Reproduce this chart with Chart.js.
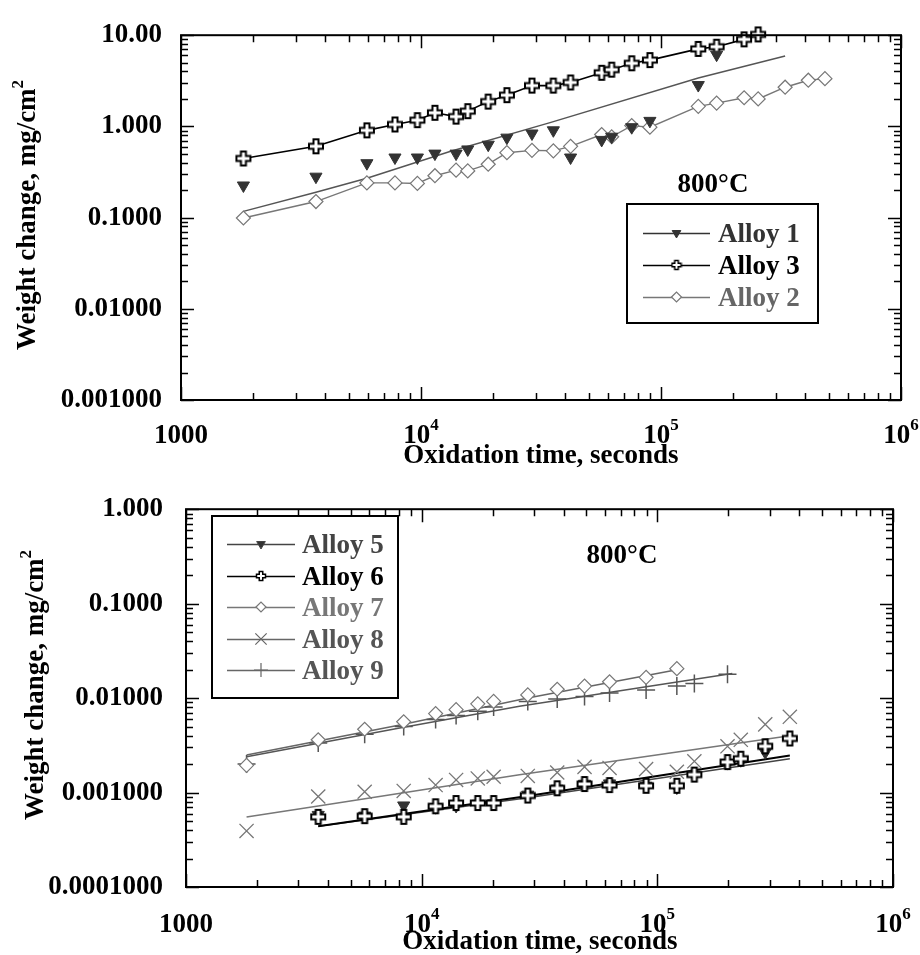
<!DOCTYPE html>
<html>
<head>
<meta charset="utf-8">
<script src="https://cdn.jsdelivr.net/npm/chart.js@4"></script>
<style>
  html, body { margin: 0; padding: 0; background: #fff; }
  #wrap { position: relative; width: 920px; height: 955px; }
  #c1 { position: absolute; left: 0; top: 0; }
  #c2 { position: absolute; left: 0; top: 470px; }
</style>
</head>
<body>
<div id="wrap">
  <canvas id="c1" width="920" height="470"></canvas>
  <canvas id="c2" width="920" height="485"></canvas>
</div>
<script>
"use strict";

// ─── Data: top panel (800°C, Alloys 1–3) ────────────────────────────────────
const TOP_T  = [1820, 3650, 5950, 7790, 9660, 11430, 14000, 15660, 19060, 22800, 29000, 35600,
                42000, 56600, 62300, 75500, 89900, 143000, 170500, 222000, 254000, 329000, 411000, 482000];
const ALLOY1 = [0.225, 0.281, 0.395, 0.456, 0.456, 0.503, 0.503, 0.559, 0.63, 0.753, 0.836, 0.906,
                0.456, 0.711, 0.771, 0.98, 1.15, 2.84, 6.12, null, null, null, null, null];
const ALLOY3 = [0.445, 0.605, 0.905, 1.05, 1.17, 1.41, 1.28, 1.47, 1.87, 2.2, 2.8, 2.8,
                3.03, 3.87, 4.19, 4.92, 5.33, 7.08, 7.48, 9.0, 10.2, null, null, null];
const ALLOY2 = [0.099, 0.15, 0.24, 0.24, 0.237, 0.288, 0.331, 0.325, 0.385, 0.515, 0.546, 0.54,
                0.605, 0.815, 0.77, 1.02, 0.98, 1.66, 1.80, 2.06, 2.0, 2.69, 3.21, 3.34];
const FIT1_T = [1820, 3650, 5950, 13200, 34500, 143000, 329000];
const FIT1   = [0.117, 0.19, 0.27, 0.53, 1.1, 3.4, 5.9];

// ─── Data: bottom panel (800°C, Alloys 5–9) ─────────────────────────────────
const BOT_T  = [1807, 3640, 5730, 8390, 11460, 14000, 17300, 20200, 28200, 37600, 49100, 62700,
                89600, 121000, 143600, 198500, 226000, 287000, 365000];
const ALLOY5 = [null, 0.00058, 0.00057, 0.00073, 0.0007, 0.00072, 0.00076, 0.00077, 0.00095, 0.0011,
                0.00124, 0.00125, 0.00118, 0.00113, 0.00155, 0.00205, 0.0022, 0.00267, null];
const ALLOY6 = [null, 0.000553, 0.000562, 0.000553, 0.000715, 0.000775, 0.000775, 0.000775, 0.00093,
                0.00111, 0.00123, 0.0012, 0.00118, 0.00118, 0.00155, 0.0021, 0.00228, 0.00309, 0.00374];
const ALLOY7 = [0.00194, 0.00362, 0.00468, 0.00562, 0.00686, 0.00755, 0.0087, 0.00923, 0.0108, 0.0124,
                0.0134, 0.0149, 0.0166, 0.0205, null, null, null, null, null];
const ALLOY8 = [0.000392, 0.000908, 0.00102, 0.00104, 0.0012, 0.00136, 0.00141, 0.00147, 0.0015, 0.00163,
                0.00187, 0.00182, 0.00177, 0.00166, 0.00214, 0.00309, 0.00362, 0.00527, 0.00634];
const ALLOY9 = [0.002, 0.00334, 0.00415, 0.00499, 0.00594, 0.00654, 0.00727, 0.00806, 0.00923, 0.00977,
                0.0104, 0.0113, 0.0122, 0.0134, 0.0143, 0.0179, null, null, null];
const FIT5_T = [3640, 28200, 365000];
const FIT5   = [0.00044, 0.00088, 0.00228];
const FIT6_T = [3640, 28200, 365000];
const FIT6   = [0.00044, 0.00092, 0.00247];
const FIT7_T = [1807, 8390, 28200, 121000];
const FIT7   = [0.0025, 0.0053, 0.0100, 0.0200];
const FIT8_T = [1807, 3640, 26000, 365000];
const FIT8   = [0.00055, 0.00072, 0.00154, 0.0040];
const FIT9_T = [1807, 8390, 26000, 208000];
const FIT9   = [0.0024, 0.0049, 0.0082, 0.0182];

// ─── Axis ticks ─────────────────────────────────────────────────────────────
const X_TICKS     = [1e3, 1e4, 1e5, 1e6];
const X_LABELS    = [["1000", ""], ["10", "4"], ["10", "5"], ["10", "6"]];
const TOP_Y_TICKS = [0.001, 0.01, 0.1, 1, 10];
const TOP_Y_LABELS = ["0.001000", "0.01000", "0.1000", "1.000", "10.00"];
const BOT_Y_TICKS = [0.0001, 0.001, 0.01, 0.1, 1];
const BOT_Y_LABELS = ["0.0001000", "0.001000", "0.01000", "0.1000", "1.000"];

const SERIF = '"Liberation Serif", "DejaVu Serif", serif';
const FONT  = (sz) => `bold ${sz}px ${SERIF}`;

// ─── Marker helpers ─────────────────────────────────────────────────────────
function makePlus(size, arm, reach, color, lw) {
  const c = document.createElement("canvas");
  c.width = c.height = size;
  const g = c.getContext("2d");
  const s = size / 2, a = arm / 2, r = reach;
  g.beginPath();
  g.moveTo(s - a, s - r); g.lineTo(s + a, s - r); g.lineTo(s + a, s - a); g.lineTo(s + r, s - a);
  g.lineTo(s + r, s + a); g.lineTo(s + a, s + a); g.lineTo(s + a, s + r); g.lineTo(s - a, s + r);
  g.lineTo(s - a, s + a); g.lineTo(s - r, s + a); g.lineTo(s - r, s - a); g.lineTo(s - a, s - a);
  g.closePath();
  g.fillStyle = "#fff"; g.fill();
  g.lineWidth = lw; g.strokeStyle = color; g.lineJoin = "miter"; g.stroke();
  return c;
}
const PLUS_BIG   = makePlus(18, 5, 7, "#000", 2);
const PLUS_SMALL = makePlus(12, 3.5, 4.5, "#000", 1.5);

const pts = (xs, ys) => xs.map((x, i) => ({ x, y: ys[i] })).filter(p => p.y !== null);

function markerSet(label, xs, ys, color, style, extra) {
  return Object.assign({
    label, data: pts(xs, ys), showLine: true, order: 1, clip: false,
    borderColor: color, borderWidth: 1.5, backgroundColor: color,
    pointStyle: style, pointRadius: 7, pointBorderColor: color, pointBackgroundColor: color,
    pointBorderWidth: 1.2, pointHoverRadius: 7,
  }, extra || {});
}
function fitSet(label, xs, ys, color, lw) {
  return {
    label, data: pts(xs, ys), showLine: true, order: 10, clip: false,
    borderColor: color, borderWidth: lw || 1.5, pointRadius: 0, pointHoverRadius: 0,
  };
}

// ─── Decorations: frame, inward ticks, x labels, titles, legend ────────────
const deco = {
  id: "deco",
  afterDraw(chart, args, o) {
    const { ctx, chartArea: a, scales: { x, y } } = chart;
    const H = Chart.helpers;
    ctx.save();

    // inward tick marks on all four sides
    ctx.strokeStyle = "#000";
    ctx.lineWidth = 1.5;
    ctx.beginPath();
    for (let e = 3; e <= 6; e++) {
      for (let m = 1; m <= 9; m++) {
        const v = m * Math.pow(10, e);
        if (v > x.max * 1.0001) break;
        const px = Math.round(x.getPixelForValue(v)) + 0.5;
        const L = m === 1 ? 13 : 7;
        ctx.moveTo(px, a.bottom); ctx.lineTo(px, a.bottom - L);
        ctx.moveTo(px, a.top);    ctx.lineTo(px, a.top + L);
      }
    }
    const e0 = Math.round(Math.log10(y.min)), e1 = Math.round(Math.log10(y.max));
    for (let e = e0; e <= e1; e++) {
      for (let m = 1; m <= 9; m++) {
        const v = m * Math.pow(10, e);
        if (v > y.max * 1.0001) break;
        const py = Math.round(y.getPixelForValue(v)) + 0.5;
        const L = m === 1 ? 13 : 7;
        ctx.moveTo(a.left, py);  ctx.lineTo(a.left + L, py);
        ctx.moveTo(a.right, py); ctx.lineTo(a.right - L, py);
      }
    }
    ctx.stroke();

    // frame
    ctx.lineWidth = 2;
    ctx.strokeRect(a.left, a.top, a.right - a.left, a.bottom - a.top);

    // x tick labels with superscript exponents
    ctx.fillStyle = "#000";
    ctx.textBaseline = "alphabetic";
    ctx.textAlign = "left";
    X_TICKS.forEach((v, i) => {
      const [base, sup] = X_LABELS[i];
      ctx.font = FONT(27);
      const wb = ctx.measureText(base).width;
      ctx.font = FONT(17);
      const ws = sup ? ctx.measureText(sup).width : 0;
      const x0 = x.getPixelForValue(v) - (wb + ws) / 2;
      ctx.font = FONT(27);
      ctx.fillText(base, x0, o.xLabelY);
      if (sup) { ctx.font = FONT(17); ctx.fillText(sup, x0 + wb, o.xLabelY - 13); }
    });

    // x title
    ctx.font = FONT(27);
    ctx.textAlign = "center";
    ctx.fillText("Oxidation time, seconds", o.xTitle[0], o.xTitle[1]);

    // y title (rotated) with superscript 2
    ctx.save();
    ctx.translate(o.yTitle[0], o.yTitle[1]);
    ctx.rotate(-Math.PI / 2);
    ctx.textAlign = "left";
    ctx.font = FONT(27);
    const t1 = "Weight change, mg/cm";
    const w1 = ctx.measureText(t1).width;
    ctx.font = FONT(17);
    const w2 = ctx.measureText("2").width;
    ctx.font = FONT(27);
    ctx.fillText(t1, -(w1 + w2) / 2, 0);
    ctx.font = FONT(17);
    ctx.fillText("2", -(w1 + w2) / 2 + w1, -12);
    ctx.restore();

    // temperature label
    ctx.font = FONT(27);
    ctx.textAlign = "center";
    ctx.fillText("800°C", o.temp[0], o.temp[1]);

    // legend box
    const L = o.legend;
    ctx.lineWidth = 2;
    ctx.strokeStyle = "#000";
    ctx.strokeRect(L.box[0], L.box[1], L.box[2] - L.box[0], L.box[3] - L.box[1]);
    L.items.forEach((it, i) => {
      const ly = L.rows[i];
      ctx.strokeStyle = it.color;
      ctx.lineWidth = 1.5;
      ctx.beginPath();
      ctx.moveTo(L.line[0], ly + 0.5); ctx.lineTo(L.line[1], ly + 0.5);
      ctx.stroke();
      ctx.fillStyle = it.fill;
      ctx.strokeStyle = it.color;
      ctx.lineWidth = it.bw || 1.2;
      H.drawPoint(ctx, { pointStyle: it.style, rotation: it.rot || 0, radius: it.r, borderWidth: it.bw || 1.2 },
                  (L.line[0] + L.line[1]) / 2, ly);
      ctx.fillStyle = it.text;
      ctx.font = FONT(27);
      ctx.textAlign = "left";
      ctx.fillText(it.label, L.textX, ly + 9);
    });

    ctx.restore();
  },
};

function baseOptions(yMin, yMax, yTicks, yLabels, yWidth, xHeight, pad, decoOpts) {
  return {
    responsive: false,
    animation: false,
    layout: { padding: pad },
    plugins: { legend: { display: false }, tooltip: { enabled: false }, deco: decoOpts },
    scales: {
      x: {
        type: "logarithmic", min: 1000, max: 1e6, position: "bottom",
        grid: { display: false, drawTicks: false }, border: { display: false },
        ticks: { display: false },
        afterFit: (s) => { s.height = xHeight; },
      },
      y: {
        type: "logarithmic", min: yMin, max: yMax,
        grid: { display: false, drawTicks: false }, border: { display: false },
        afterBuildTicks: (s) => { s.ticks = yTicks.map(v => ({ value: v })); },
        ticks: {
          autoSkip: false, color: "#000", padding: pad.tickPad,
          font: { family: SERIF, size: 27, weight: "bold" },
          callback: (v, i) => yLabels[i],
        },
        afterFit: (s) => { s.width = yWidth; },
      },
    },
  };
}

// ─── Top chart ──────────────────────────────────────────────────────────────
new Chart(document.getElementById("c1"), {
  type: "scatter",
  plugins: [deco],
  data: {
    datasets: [
      markerSet("Alloy 1", TOP_T, ALLOY1, "#333", "triangle", { showLine: false, pointRotation: 180, pointBorderWidth: 1 }),
      markerSet("Alloy 3", TOP_T, ALLOY3, "#000", PLUS_BIG, { borderWidth: 1.6 }),
      markerSet("Alloy 2", TOP_T, ALLOY2, "#777", "rectRot", { pointBackgroundColor: "#fff", borderWidth: 1.4 }),
      fitSet("Alloy 1 fit", FIT1_T, FIT1, "#555", 1.5),
    ],
  },
  options: baseOptions(0.001, 10, TOP_Y_TICKS, TOP_Y_LABELS, 181, 70,
    { top: 19, right: 19, left: 0, bottom: 0, tickPad: 19 },
    {
      xLabelY: 443, xTitle: [541, 463], yTitle: [35, 215], temp: [713, 192],
      legend: {
        box: [627, 204, 818, 323], rows: [233, 265, 297], line: [643, 710], textX: 718,
        items: [
          { label: "Alloy 1", color: "#333", fill: "#333", text: "#333", style: "triangle", rot: 180, r: 5, bw: 1 },
          { label: "Alloy 3", color: "#000", fill: "#000", text: "#000", style: PLUS_SMALL, r: 5 },
          { label: "Alloy 2", color: "#777", fill: "#fff", text: "#666", style: "rectRot", r: 5 },
        ],
      },
    }),
});

// ─── Bottom chart ───────────────────────────────────────────────────────────
new Chart(document.getElementById("c2"), {
  type: "scatter",
  plugins: [deco],
  data: {
    datasets: [
      markerSet("Alloy 6", BOT_T, ALLOY6, "#000", PLUS_BIG, { showLine: false }),
      markerSet("Alloy 5", BOT_T, ALLOY5, "#333", "triangle", { showLine: false, pointRotation: 180, pointBorderWidth: 1 }),
      markerSet("Alloy 7", BOT_T, ALLOY7, "#777", "rectRot", { showLine: false, pointBackgroundColor: "#fff" }),
      markerSet("Alloy 8", BOT_T, ALLOY8, "#777", "crossRot", { showLine: false, pointRadius: 10, pointBorderWidth: 1.3 }),
      markerSet("Alloy 9", BOT_T, ALLOY9, "#555", "cross", { showLine: false, pointRadius: 9, pointBorderWidth: 1.5 }),
      fitSet("Alloy 6 fit", FIT6_T, FIT6, "#000", 2),
      fitSet("Alloy 5 fit", FIT5_T, FIT5, "#444", 1.5),
      fitSet("Alloy 7 fit", FIT7_T, FIT7, "#666", 1.5),
      fitSet("Alloy 8 fit", FIT8_T, FIT8, "#777", 1.5),
      fitSet("Alloy 9 fit", FIT9_T, FIT9, "#555", 1.5),
    ],
  },
  options: baseOptions(0.0001, 1, BOT_Y_TICKS, BOT_Y_LABELS, 186, 68,
    { top: 33, right: 27, left: 0, bottom: 0, tickPad: 23 },
    {
      xLabelY: 462, xTitle: [540, 479], yTitle: [43, 215], temp: [622, 93],
      legend: {
        box: [212, 46, 398, 228], rows: [74, 106, 137, 169, 200], line: [227, 295], textX: 302,
        items: [
          { label: "Alloy 5", color: "#444", fill: "#333", text: "#444", style: "triangle", rot: 180, r: 5, bw: 1 },
          { label: "Alloy 6", color: "#000", fill: "#000", text: "#000", style: PLUS_SMALL, r: 5 },
          { label: "Alloy 7", color: "#777", fill: "#fff", text: "#777", style: "rectRot", r: 5 },
          { label: "Alloy 8", color: "#666", fill: "#666", text: "#555", style: "crossRot", r: 8 },
          { label: "Alloy 9", color: "#666", fill: "#666", text: "#555", style: "cross", r: 7 },
        ],
      },
    }),
});
</script>
</body>
</html>
